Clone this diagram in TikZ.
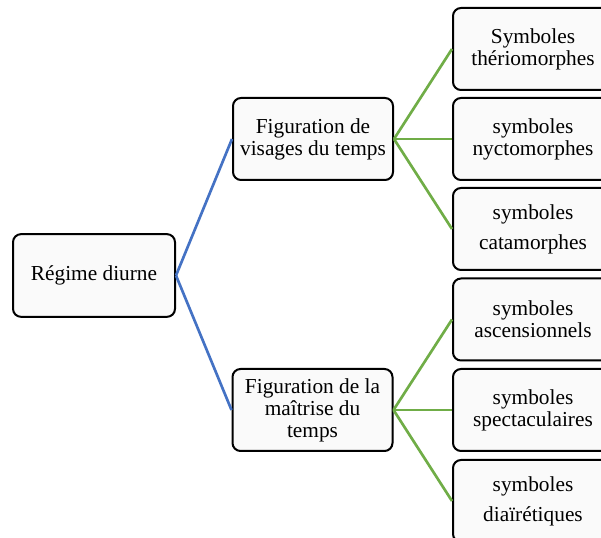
\documentclass[tikz,border=0pt]{standalone}
\usepackage{fontspec}
\setmainfont{Liberation Serif}
\usetikzlibrary{shadows}
\definecolor{lienbleu}{HTML}{4472C4}
\definecolor{lienvert}{HTML}{70AD47}
\begin{document}
\begin{tikzpicture}[x=0.75pt,y=0.75pt,
    boite/.style={draw=black,line width=1.5pt,rounded corners=6pt,fill=black!2,
      minimum width=120pt,minimum height=61.5pt,align=center,inner sep=2pt,
      font=\fontsize{16}{16.5}\selectfont,
      drop shadow={shadow xshift=0.6pt,shadow yshift=-0.6pt,opacity=0.25}},
    lienb/.style={draw=lienbleu,line width=2pt},
    lienv/.style={draw=lienvert,line width=2pt}]
    \useasboundingbox (0,0) rectangle (601,538);
    \clip (0,0) rectangle (601,538);

    % racine
    \node[boite,minimum width=121.5pt,minimum height=62pt] (regime) at (94,262.5) {Régime diurne};

    % deux figurations
    \node[boite] (visages) at (313,399) {Figuration de\\visages du temps};
    \node[boite] (maitrise) at (312.5,128) {Figuration de la\\maîtrise du\\temps};

    % symboles
    \node[boite] (therio) at (533,489) {Symboles\\thériomorphes};
    \node[boite] (nycto) at (533,399) {symboles\\nyctomorphes};
    \node[boite] (cata) at (533,309) {symboles\\[6pt]catamorphes};
    \node[boite] (ascens) at (533,218.5) {symboles\\ascensionnels};
    \node[boite] (spect) at (533,128) {symboles\\spectaculaires};
    \node[boite] (diai) at (533,37) {symboles\\[6pt]diaïrétiques};

    \path [lienb] (regime.east) edge (visages.west);
    \path [lienb] (regime.east) edge (maitrise.west);
    \path [lienv] (visages.east) edge (therio.west);
    \path [lienv] (visages.east) edge (nycto.west);
    \path [lienv] (visages.east) edge (cata.west);
    \path [lienv] (maitrise.east) edge (ascens.west);
    \path [lienv] (maitrise.east) edge (spect.west);
    \path [lienv] (maitrise.east) edge (diai.west);
\end{tikzpicture}
\end{document}
